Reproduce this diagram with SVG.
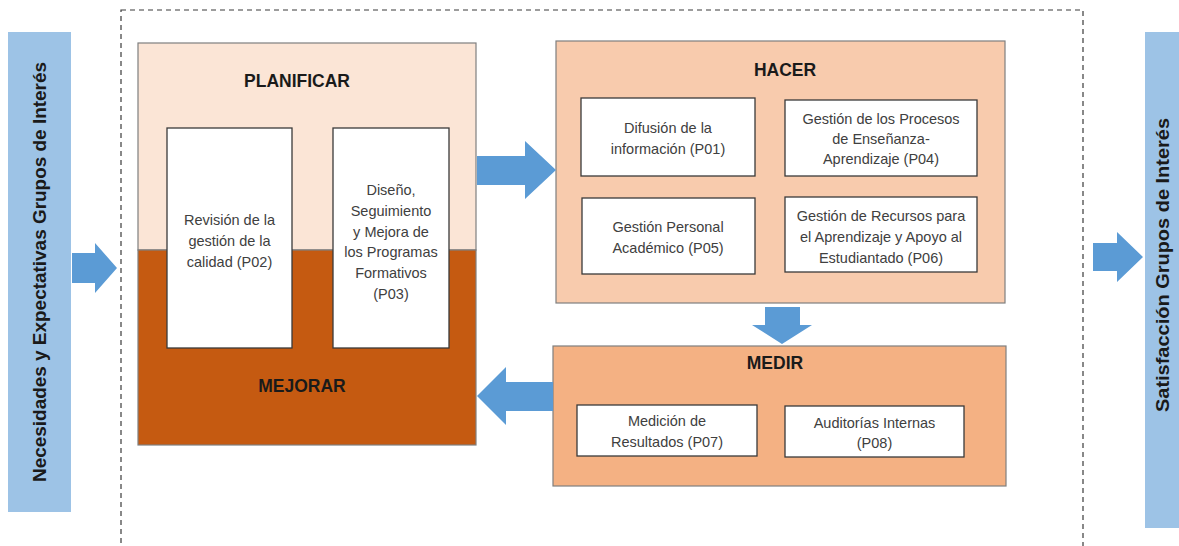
<svg xmlns="http://www.w3.org/2000/svg" width="1179" height="546" viewBox="0 0 1179 546">
<style>
.bar{fill:#9DC3E6}
.arrow{fill:#5B9BD5}
.inner{fill:#FFFFFF;stroke:#3A3A3A;stroke-width:1.3}
.grp{stroke:#7F7F7F;stroke-width:1.2}
.t{font-family:"Liberation Sans",Arial,sans-serif;font-size:14.5px;fill:#404040;text-anchor:middle;dominant-baseline:central}
.h{font-family:"Liberation Sans",Arial,sans-serif;font-size:17.5px;font-weight:bold;fill:#1A1A1A;text-anchor:middle;dominant-baseline:central}
.v{font-family:"Liberation Sans",Arial,sans-serif;font-size:18px;font-weight:bold;fill:#1A1A1A;text-anchor:middle;dominant-baseline:central}
</style>
<rect width="1179" height="546" fill="#FFFFFF"/>
<rect id="frame" x="121" y="10" width="962" height="560" fill="none" stroke="#3A3A3A" stroke-width="1.2" stroke-dasharray="5,4"/>

<g id="necesidades">
<rect class="bar" x="8" y="32" width="63" height="480"/>
<text class="v" transform="translate(40,272) rotate(-90)" textLength="420" lengthAdjust="spacingAndGlyphs">Necesidades y Expectativas Grupos de Interés</text>
</g>

<g id="satisfaccion">
<rect class="bar" x="1145" y="32" width="40" height="496"/>
<text class="v" transform="translate(1163,265) rotate(-90)" textLength="294" lengthAdjust="spacingAndGlyphs">Satisfacción Grupos de Interés</text>
</g>

<g id="planificar-mejorar">
<rect x="138" y="43" width="338" height="207" fill="#FBE5D6" class="grp"/>
<rect x="138" y="250" width="338" height="195" fill="#C55A11" class="grp"/>
<text class="h" x="297" y="81">PLANIFICAR</text>
<text class="h" x="302" y="386">MEJORAR</text>
</g>

<g id="p02">
<rect class="inner" x="167" y="128" width="125" height="220"/>
<text class="t" x="229.5" y="220">Revisión de la</text>
<text class="t" x="229.5" y="241">gestión de la</text>
<text class="t" x="229.5" y="262">calidad (P02)</text>
</g>

<g id="p03">
<rect class="inner" x="333" y="128" width="116" height="220"/>
<text class="t" x="391" y="190">Diseño,</text>
<text class="t" x="391" y="211">Seguimiento</text>
<text class="t" x="391" y="232">y Mejora de</text>
<text class="t" x="391" y="252">los Programas</text>
<text class="t" x="391" y="273">Formativos</text>
<text class="t" x="391" y="294">(P03)</text>
</g>

<g id="hacer">
<rect x="556" y="41" width="449" height="262" fill="#F8CBAD" class="grp"/>
<text class="h" x="785" y="70">HACER</text>
</g>

<g id="p01">
<rect class="inner" x="581" y="98" width="174" height="78"/>
<text class="t" x="668" y="128">Difusión de la</text>
<text class="t" x="668" y="149">información (P01)</text>
</g>

<g id="p04">
<rect class="inner" x="785" y="100" width="192" height="76"/>
<text class="t" x="881" y="119">Gestión de los Procesos</text>
<text class="t" x="881" y="139">de Enseñanza-</text>
<text class="t" x="881" y="159">Aprendizaje (P04)</text>
</g>

<g id="p05">
<rect class="inner" x="582" y="198" width="173" height="76"/>
<text class="t" x="668" y="227">Gestión Personal</text>
<text class="t" x="668" y="248">Académico (P05)</text>
</g>

<g id="p06">
<rect class="inner" x="785" y="197" width="192" height="75"/>
<text class="t" x="881" y="216">Gestión de Recursos para</text>
<text class="t" x="881" y="237">el Aprendizaje y Apoyo al</text>
<text class="t" x="881" y="258">Estudiantado (P06)</text>
</g>

<g id="medir">
<rect x="553" y="346" width="453" height="140" fill="#F4B183" class="grp"/>
<text class="h" x="775" y="363">MEDIR</text>
</g>

<g id="p07">
<rect class="inner" x="577" y="405" width="180" height="51"/>
<text class="t" x="667" y="421">Medición de</text>
<text class="t" x="667" y="442">Resultados (P07)</text>
</g>

<g id="p08">
<rect class="inner" x="785" y="406" width="179" height="51"/>
<text class="t" x="874.5" y="423">Auditorías Internas</text>
<text class="t" x="874.5" y="443">(P08)</text>
</g>

<g id="connectors">
<polygon class="arrow" points="72,253 95,253 95,243 117,268 95,293 95,283 72,283"/>
<polygon class="arrow" points="477,156 525,156 525,141 556,170 525,199 525,185 477,185"/>
<polygon class="arrow" points="765,307 800,307 800,325 812,325 782,344 752,325 765,325"/>
<polygon class="arrow" points="553,382 506,382 506,367 477,396 506,425 506,411 553,411"/>
<polygon class="arrow" points="1093,243 1117,243 1117,232 1143,257 1117,282 1117,271 1093,271"/>
</g>
</svg>
